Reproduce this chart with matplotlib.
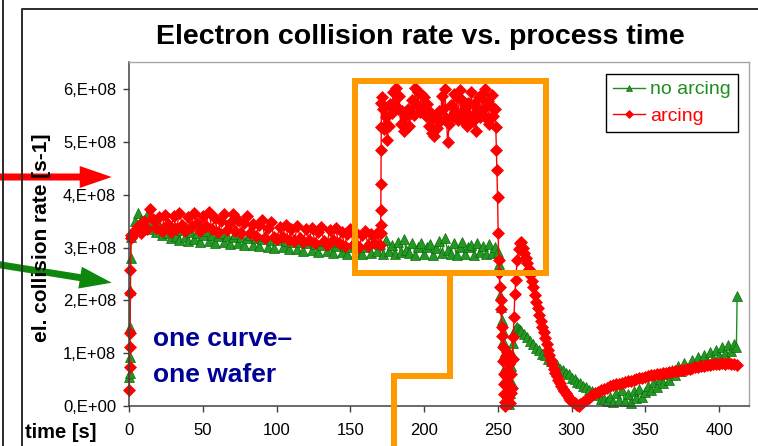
import numpy as np
import matplotlib
matplotlib.use('Agg')
import matplotlib.pyplot as plt
from matplotlib.patches import Rectangle, FancyArrow

plt.rcParams['font.family'] = ['Liberation Sans', 'DejaVu Sans']

SCALE = 1e8  # rates below are in units of 1E+08 s^-1

# ---- no arcing ----
noarc_rise_t = [0, 0.2, 0.4, 0.6, 0.8, 1.0, 1.3]
noarc_rise = [0.55, 0.62, 0.93, 1.50, 2.20, 2.80, 3.20]
# sampled every 2 s, t = 2 ... 250
noarc_plateau = [
    3.28, 3.50, 3.66, 3.52, 3.40, 3.62, 3.36, 3.50, 3.30, 3.44,
    3.24, 3.40, 3.28, 3.18, 3.38, 3.22, 3.14, 3.34, 3.20, 3.12,
    3.30, 3.16, 3.27, 3.10, 3.24, 3.31, 3.12, 3.25, 3.08, 3.22,
    3.28, 3.10, 3.23, 3.07, 3.21, 3.26, 3.08, 3.20, 3.05, 3.18,
    3.24, 3.06, 3.19, 3.03, 3.16, 3.22, 3.02, 3.15, 3.00, 3.14,
    3.20, 3.01, 3.13, 2.98, 3.11, 3.17, 2.97, 3.10, 2.94, 3.08,
    3.15, 2.95, 3.07, 2.92, 3.06, 3.13, 2.93, 3.05, 2.90, 3.04,
    3.11, 2.91, 3.03, 2.89, 3.02, 3.10, 2.91, 3.04, 2.88, 3.01,
    3.09, 2.90, 3.12, 2.93, 3.07, 2.89, 3.14, 2.94, 3.06, 2.88,
    3.10, 2.92, 3.16, 2.95, 2.90, 3.09, 2.87, 3.01, 3.08, 2.88,
    3.01, 3.07, 2.86, 2.99, 3.12, 2.90, 3.18, 2.95, 2.89, 3.08,
    2.86, 3.01, 3.10, 2.88, 3.02, 3.06, 2.87, 3.09, 2.91, 3.03,
    2.89, 3.07, 2.90, 3.01, 2.92,
]
noarc_dip_t = [250.8, 251.4, 252.0, 252.6, 253.2, 253.8, 254.4, 255.0,
               255.6, 256.2, 256.8, 257.4, 258.0, 258.6, 259.2, 259.8,
               260.4, 261.0, 262, 263, 264, 265, 266]
noarc_dip = [2.70, 2.10, 1.88, 1.63, 1.43, 1.24, 0.98, 0.74,
             0.55, 0.35, 0.15, 0.04, 0.25, 0.48, 0.75, 0.98,
             1.20, 1.43, 1.47, 1.50, 1.46, 1.44, 1.42]
# every 2 s, t = 268 ... 324
noarc_decay = [
    1.36, 1.31, 1.23, 1.18, 1.10, 1.06, 0.99, 0.96, 0.89, 0.86,
    0.79, 0.77, 0.70, 0.68, 0.62, 0.60, 0.54, 0.52, 0.46, 0.44,
    0.38, 0.36, 0.30, 0.28, 0.22, 0.20, 0.14, 0.13, 0.09,
]
# every 2 s, t = 326 ... 410
noarc_tail = [
    0.18, 0.08, 0.25, 0.12, 0.30, 0.10, 0.22, 0.06, 0.28, 0.15,
    0.33, 0.18, 0.26, 0.38, 0.30, 0.45, 0.36, 0.52, 0.44, 0.60,
    0.50, 0.68, 0.58, 0.75, 0.66, 0.82, 0.72, 0.78, 0.88, 0.76,
    0.92, 0.82, 0.97, 0.86, 1.02, 0.90, 1.06, 0.95, 1.12, 1.00,
    1.15, 1.04, 1.18,
]
noarc_end_t = [411.8, 412.3]
noarc_end = [1.12, 2.08]

# ---- arcing ----
arc_rise_t = [0, 0.15, 0.3, 0.45, 0.6, 0.8, 1.0, 1.3]
arc_rise = [0.30, 0.74, 1.12, 1.38, 2.14, 2.58, 3.18, 3.25]
# every 2 s, t = 2 ... 170
arc_plateau = [
    3.22, 3.34, 3.42, 3.28, 3.50, 3.36, 3.74, 3.55, 3.38, 3.58,
    3.32, 3.62, 3.45, 3.30, 3.60, 3.36, 3.66, 3.44, 3.31, 3.59,
    3.40, 3.65, 3.47, 3.32, 3.61, 3.42, 3.68, 3.36, 3.56, 3.30,
    3.50, 3.63, 3.33, 3.46, 3.64, 3.31, 3.52, 3.28, 3.47, 3.60,
    3.28, 3.45, 3.22, 3.43, 3.52, 3.18, 3.38, 3.48, 3.20, 3.16,
    3.40, 3.20, 3.44, 3.14, 3.35, 3.12, 3.42, 3.18, 3.10, 3.36,
    3.15, 3.38, 3.08, 3.30, 3.40, 3.12, 3.06, 3.34, 3.14, 3.37,
    3.08, 3.30, 3.04, 3.26, 3.35, 3.06, 3.28, 3.02, 3.24, 3.32,
    3.03, 3.26, 3.08, 3.28, 3.06,
]
arc_jump_t = [170.4, 170.5, 170.6, 170.7, 170.8, 170.9, 171.0, 171.3]
arc_jump = [3.27, 3.43, 3.71, 4.20, 4.85, 5.29, 5.74, 5.86]
# every 1 s, t = 172 ... 248
arc_high = [
    5.62, 5.25, 5.48, 5.05, 5.30, 5.72, 5.55, 5.95, 5.70, 6.02,
    5.62, 5.88, 5.35, 5.60, 5.22, 5.50, 5.28, 5.62, 5.30, 5.55,
    5.80, 5.52, 6.02, 5.70, 5.95, 5.58, 5.92, 5.66, 5.85, 5.50,
    5.72, 5.30, 5.58, 5.18, 5.45, 5.12, 5.52, 5.26, 5.60, 5.40,
    5.88, 5.62, 6.00, 5.45, 5.00, 5.35, 5.70, 5.50, 5.92, 5.58,
    5.85, 5.42, 5.98, 5.55, 5.80, 5.38, 5.65, 5.30, 5.75, 5.50,
    5.96, 5.40, 5.72, 5.22, 5.58, 5.85, 5.48, 5.92, 5.62, 6.00,
    5.45, 5.78, 5.35, 5.68, 5.90, 5.50, 5.62,
]
arc_drop_t = [248.6, 249.0, 249.4, 249.8, 250.2, 250.6, 251.0, 251.4,
              251.8, 252.2, 252.6, 253.0, 253.3, 253.6, 253.9, 254.2,
              254.4, 254.6, 254.8,
              255.2, 255.6, 256.0, 256.4, 256.8, 257.2, 257.6, 258.0,
              258.4, 258.8, 259.2, 259.6, 260.0,
              260.5, 261.0, 261.5, 262.2, 263.0, 264.0, 265.0]
arc_drop = [5.28, 4.85, 4.47, 3.96, 3.27, 2.77, 2.52, 2.25,
            2.00, 1.84, 1.50, 1.33, 1.12, 0.86, 0.60, 0.42,
            0.23, 0.07, 0.00,
            0.45, 0.95, 1.02, 0.55, 0.15, 0.35, 0.80, 0.30,
            0.05, 0.25, 0.60, 0.35, 0.90,
            1.30, 1.68, 2.13, 2.38, 2.76, 2.98, 3.08]
# every 1 s, t = 266 ... 305
arc_decay = [
    3.11, 3.00, 2.90, 2.81, 2.71, 2.60, 2.48, 2.36, 2.25, 2.11,
    1.97, 1.85, 1.73, 1.61, 1.50, 1.40, 1.29, 1.18, 1.07, 0.97,
    0.88, 0.79, 0.71, 0.63, 0.56, 0.49, 0.43, 0.38, 0.33, 0.28,
    0.24, 0.20, 0.16, 0.12, 0.09, 0.07, 0.05, 0.03, 0.01, 0.00,
]
# every 2 s, t = 306 ... 412
arc_tail = [
    0.03, 0.08, 0.12, 0.16, 0.20, 0.24, 0.27, 0.30, 0.33, 0.35,
    0.37, 0.39, 0.41, 0.42, 0.44, 0.45, 0.47, 0.48, 0.50, 0.51,
    0.53, 0.54, 0.55, 0.57, 0.58, 0.59, 0.60, 0.61, 0.62, 0.63,
    0.64, 0.65, 0.66, 0.67, 0.68, 0.69, 0.70, 0.71, 0.72, 0.73,
    0.74, 0.75, 0.76, 0.77, 0.78, 0.79, 0.80, 0.80, 0.81, 0.80,
    0.81, 0.80, 0.79, 0.78,
]

y_ticks = [0, 1, 2, 3, 4, 5, 6]
y_ticklabels = ['0,E+00', '1,E+08', '2,E+08', '3,E+08', '4,E+08', '5,E+08', '6,E+08']
x_ticks = [0, 50, 100, 150, 200, 250, 300, 350, 400]

t_noarc = np.concatenate([noarc_rise_t, np.arange(2, 251, 2), noarc_dip_t,
                          np.arange(268, 325, 2), np.arange(326, 411, 2), noarc_end_t])
r_noarc = np.concatenate([noarc_rise, noarc_plateau, noarc_dip,
                          noarc_decay, noarc_tail, noarc_end]) * SCALE
t_arc = np.concatenate([arc_rise_t, np.arange(2, 171, 2), arc_jump_t,
                        np.arange(172, 249, 1), arc_drop_t,
                        np.arange(266, 306, 1), np.arange(306, 413, 2)])
r_arc = np.concatenate([arc_rise, arc_plateau, arc_jump, arc_high,
                        arc_drop, arc_decay, arc_tail]) * SCALE

W, H = 758, 446
fig = plt.figure(figsize=(W / 100, H / 100), dpi=100)
fig.patch.set_facecolor('white')

ax = fig.add_axes([129.3 / W, (H - 406) / H, (748.5 - 129.3) / W, (406 - 62) / H])
ax.plot(t_noarc, r_noarc, color='#1f8f1f', lw=1, marker='^', ms=7,
        mfc='#229922', mec='#0f6a0f', mew=0.5, clip_on=False, label='no arcing')
ax.plot(t_arc, r_arc, color='#ff0000', lw=1, marker='D', ms=6.2,
        mfc='#ff0000', mec='#ff0000', mew=0.5, clip_on=False, label='arcing')

ax.set_xlim(0, 420)
ax.set_ylim(0, 6.52 * SCALE)
ax.set_xticks(x_ticks)
ax.set_yticks([v * SCALE for v in y_ticks])
ax.set_yticklabels(y_ticklabels)
ax.tick_params(axis='both', direction='out', length=4, width=1, color='#404040',
               labelsize=12)
ax.tick_params(axis='x', pad=8.5)
ax.tick_params(axis='y', pad=5.5)
for side in ('left', 'bottom'):
    ax.spines[side].set_color('#404040')
    ax.spines[side].set_linewidth(1.1)
for side in ('top', 'right'):
    ax.spines[side].set_color('#a6a6a6')
    ax.spines[side].set_linewidth(1)

leg = ax.legend(loc='upper right', bbox_to_anchor=(738 / W, 1 - 74 / H),
                bbox_transform=fig.transFigure, borderaxespad=0, fontsize=14,
                frameon=True, fancybox=False, edgecolor='black', framealpha=1,
                handlelength=1.65, handletextpad=0.3, borderpad=0.35,
                labelspacing=0.45, labelcolor='linecolor', markerscale=0.6)
leg.get_frame().set_linewidth(1)

fig.text(420 / W, 1 - 37 / H, 'Electron collision rate vs. process time',
         ha='center', va='center', fontsize=20.5, fontweight='bold')
fig.text(42 / W, 1 - 238 / H, 'el. collision rate [s-1]', rotation=90,
         ha='center', va='center', fontsize=15, fontweight='bold')
fig.text(25 / W, 1 - 432 / H, 'time [s]', ha='left', va='center',
         fontsize=14.5, fontweight='bold')
fig.text(153 / W, 1 - 346.5 / H, 'one curve–', ha='left', va='baseline',
         fontsize=19, fontweight='bold', color='#000096')
fig.text(153 / W, 1 - 381.5 / H, 'one wafer', ha='left', va='baseline',
         fontsize=19, fontweight='bold', color='#000096')

# overlay in pixel coordinates for frame lines, highlight box and arrows
ov = fig.add_axes([0, 0, 1, 1])
ov.set_xlim(0, W)
ov.set_ylim(H, 0)
ov.axis('off')
ov.patch.set_alpha(0)

frame = dict(color='#2b2b2b', lw=1.4, solid_capstyle='butt')
ov.plot([3, 3], [0, H], **frame)
ov.plot([22, 22, W], [H, 8.5, 8.5], **frame)

orange = '#ff9900'
ov.add_patch(Rectangle((354.7, 81.3), 546.3 - 354.7, 273 - 81.3, fill=False,
                       edgecolor=orange, lw=6 * 0.72, joinstyle='miter'))
ov.plot([450.3, 450.3, 393.7, 393.7], [273, 376.3, 376.3, H + 5], color=orange,
        lw=6 * 0.72, solid_joinstyle='miter', solid_capstyle='butt')

ov.add_patch(FancyArrow(-5, 177, 116.7, 0, width=7, head_width=22, head_length=32,
                        length_includes_head=True, color='#ff0000', lw=0))
ov.add_patch(FancyArrow(-5, 264, 116.7, 18.7, width=7, head_width=22, head_length=32,
                        length_includes_head=True, color='#0e870e', lw=0))

fig.savefig('out.png', dpi=100)
